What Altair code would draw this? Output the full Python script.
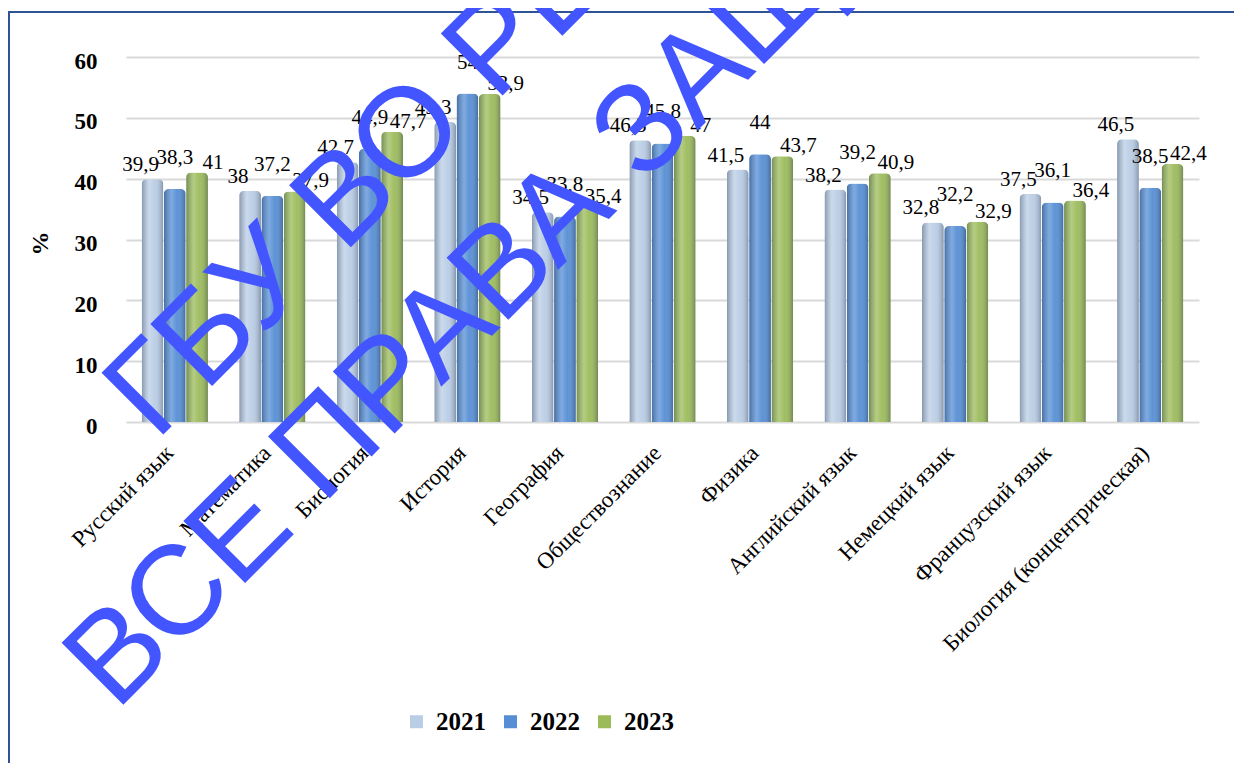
import altair as alt
import pandas as pd

subjects = ["Русский язык", "Математика", "Биология", "История", "География",
            "Обществознание", "Физика", "Английский язык", "Немецкий язык",
            "Французский язык", "Биология (концентрическая)"]
years = ["2021", "2022", "2023"]
v2021 = [39.9, 38, 42.7, 49.3, 34.5, 46.3, 41.5, 38.2, 32.8, 37.5, 46.5]
v2022 = [38.3, 37.2, 44.9, 54, 33.8, 45.8, 44, 39.2, 32.2, 36.1, 38.5]
v2023 = [41, 37.9, 47.7, 53.9, 35.4, 47, 43.7, 40.9, 32.9, 36.4, 42.4]
y_ticks = [0, 10, 20, 30, 40, 50, 60]
colors = ["#B9CDE5", "#558ED5", "#9BBB59"]
watermark_lines = ["ГБУ ВО РЦОКО", "ВСЕ ПРАВА ЗАЩИЩЕНЫ"]

rows = []
for i, s in enumerate(subjects):
    for yr, vals in zip(years, [v2021, v2022, v2023]):
        v = vals[i]
        rows.append({"subject": s, "year": yr, "value": v,
                     "label": f"{v:g}".replace(".", ",")})
df = pd.DataFrame(rows)

W, H = 1073, 365
SERIF = "'Times New Roman', 'Liberation Serif', serif"
SANS = "Arial, 'Liberation Sans', sans-serif"

x_enc = alt.X("subject:N", sort=subjects,
              scale=alt.Scale(paddingInner=0.32, paddingOuter=0.16),
              axis=alt.Axis(title=None, labelAngle=-45, labelAlign="right",
                            labelBaseline="middle", labelFont=SERIF,
                            labelFontSize=23, labelColor="#000",
                            labelPadding=27, labelOffset=-5, ticks=False,
                            domain=False, labelLimit=500))
xo_enc = alt.XOffset("year:N", sort=years, scale=alt.Scale(paddingInner=0.02))
y_enc = alt.Y("value:Q", scale=alt.Scale(domain=[0, 60], nice=False),
              axis=alt.Axis(values=y_ticks, title="%", titleFont=SERIF,
                            titleFontSize=24, titleFontWeight="bold",
                            titleColor="#000", titleAngle=270, titleX=-86,
                            titleY=186, titleAlign="center",
                            titleBaseline="middle", labelFont=SERIF,
                            labelFontSize=23, labelFontWeight="bold",
                            labelColor="#000", labelPadding=29, labelOffset=4,
                            ticks=False, domain=False, gridColor="#D9D9D9",
                            gridWidth=2))
color_enc = alt.Color("year:N", scale=alt.Scale(domain=years, range=colors),
                      legend=alt.Legend(orient="none", legendX=278, legendY=652,
                                        direction="horizontal", title=None,
                                        symbolType="square", symbolSize=169,
                                        symbolStrokeWidth=0, labelFont=SERIF,
                                        labelFontSize=25, labelFontWeight="bold",
                                        labelColor="#000", columnPadding=12,
                                        labelOffset=7, padding=0))

base = alt.Chart(df)

frame = alt.Chart(pd.DataFrame({"a": [0]})).mark_rect(
    fillOpacity=0, stroke="#2F5496", strokeWidth=2
).encode(x=alt.value(-117), x2=alt.value(W + 200),
         y=alt.value(-45), y2=alt.value(H + 500))

bars = base.mark_bar(cornerRadiusTopLeft=5, cornerRadiusTopRight=5).encode(
    x=x_enc, xOffset=xo_enc, y=y_enc, color=color_enc)

shade_grad = alt.Gradient(
    gradient="linear", x1=0, x2=1, y1=0, y2=0,
    stops=[alt.GradientStop(color="rgba(40,50,70,0.35)", offset=0),
           alt.GradientStop(color="rgba(255,255,255,0.25)", offset=0.35),
           alt.GradientStop(color="rgba(255,255,255,0.05)", offset=0.6),
           alt.GradientStop(color="rgba(30,40,60,0.35)", offset=1)])
shade = base.mark_bar(cornerRadiusTopLeft=5, cornerRadiusTopRight=5,
                      color=shade_grad).encode(
    x=x_enc, xOffset=xo_enc, y=y_enc)

# per-series label placement (as in the reference's 3D layout)
label_style = {"2021": (-12, -14), "2022": (0, -31), "2023": (16, -10)}
label_layers = []
for yr in years:
    dx, dy = label_style[yr]
    label_layers.append(
        base.transform_filter(alt.datum.year == yr).mark_text(
            font=SERIF, fontSize=21, baseline="middle", dx=dx, dy=dy,
            color="#000").encode(
            x=x_enc, xOffset=xo_enc, y=y_enc, text="label:N"))

wm1 = alt.Chart(pd.DataFrame({"t": [watermark_lines[0]]})).mark_text(
    angle=315, align="left", baseline="alphabetic", font=SANS,
    fontSize=127, color="#4255FF"
).encode(x=alt.value(30), y=alt.value(385), text="t:N")

wm2 = alt.Chart(pd.DataFrame({"t": [watermark_lines[1]]})).mark_text(
    angle=315, align="left", baseline="alphabetic", font=SANS,
    fontSize=127, color="#4255FF"
).encode(x=alt.value(-10), y=alt.value(655), text="t:N")

chart = alt.layer(frame, bars, shade, *label_layers, wm1, wm2).properties(
    width=W, height=H,
    autosize=alt.AutoSizeParams(type="none"),
    padding={"left": 118, "top": 49, "right": 35, "bottom": 341},
    background="white"
).configure_view(stroke=None)

chart.save("out.html", embed_options={"renderer": "svg", "actions": False})
